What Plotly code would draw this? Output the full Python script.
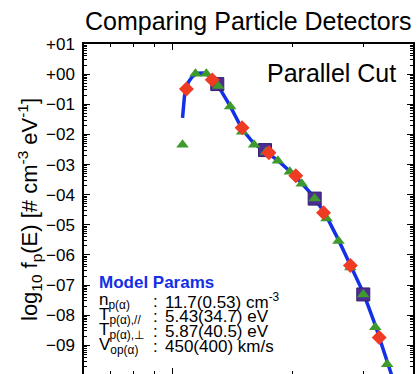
import plotly.graph_objects as go
import numpy as np

# Model curve (energy in eV, log10 f)
curve_E = [1059, 1065, 1071, 1083, 1096, 1121, 1154, 1194, 1229, 1265, 1301, 1394,
           1493, 1600, 1714, 1835, 1966, 2106, 2269, 2430, 2603, 2788, 3003, 3218,
           3446, 3600]
curve_logf = [-1.45, -0.95, -0.72, -0.49, -0.26, -0.08, 0.03, 0.04, -0.03, -0.19,
              -0.39, -1.06, -1.82, -2.31, -2.57, -2.86, -3.22, -3.62, -4.10, -4.72,
              -5.50, -6.33, -7.25, -8.33, -9.50, -10.3]

# Detector 1 (red diamonds)
red_E = [1083, 1257, 1493, 1743, 2035, 2388, 2788, 3292]
red_logf = [-0.49, -0.19, -1.78, -2.61, -3.37, -4.60, -6.35, -8.74]

# Detector 2 (green triangles)
green_E = [1059, 1141, 1215, 1301, 1394, 1493, 1600, 1714, 1835, 1966, 2106, 2269,
           2430, 2603, 2788, 3003, 3218, 3446]
green_logf = [-2.34, 0.01, 0.01, -0.39, -1.07, -1.91, -2.34, -2.58, -2.87, -3.24,
              -3.64, -4.13, -4.79, -5.54, -6.42, -7.31, -8.40, -9.63]

# Detector 3 (purple squares)
sq_E = [1294, 1704, 2269, 3003]
sq_logf = [-0.33, -2.52, -4.13, -7.31]

# Axis ticks
y_major = list(range(-9, 2))
y_labels = [("+%02d" % v) if v >= 0 else ("\u2212%02d" % (-v)) for v in y_major]
y_minor = [n + np.log10(k) for n in range(-10, 1) for k in range(2, 10)]
x_major = [1000]
x_minor = [600, 700, 800, 900, 2000, 3000, 4000]

# Parameter table
param_labels = ["n<sub>p(\u03b1)</sub>", "T<sub>p(\u03b1),//</sub>",
                "T<sub>p(\u03b1),\u22a5</sub>", "V<sub>op(\u03b1)</sub>"]
param_values = ["11.7(0.53) cm<sup>-3</sup>", "5.43(34.7) eV", "5.87(40.5) eV",
                "450(400) km/s"]

FONT = "Liberation Sans, Arial, Helvetica, sans-serif"
BLUE = "#1330e6"

X_RANGE = [np.log10(600), np.log10(4000)]
Y_RANGE = [-9.95, 1]

fig = go.Figure()
fig.add_trace(go.Scatter(x=curve_E, y=curve_logf, mode="lines",
                         line=dict(color=BLUE, width=3.5), hoverinfo="skip"))
fig.add_trace(go.Scatter(x=sq_E, y=sq_logf, mode="markers",
                         marker=dict(symbol="square", size=13, color="#4d2c94",
                                     line=dict(color="#33206e", width=1))))
fig.add_trace(go.Scatter(x=green_E, y=green_logf, mode="markers",
                         marker=dict(symbol="triangle-up", size=11, color="#3f9a2e",
                                     line=dict(width=0))))
fig.add_trace(go.Scatter(x=red_E, y=red_logf, mode="markers",
                         marker=dict(symbol="diamond", size=11.5, color="#ef3a24",
                                     line=dict(width=0))))
# empty trace to anchor the mirrored (top/right) tick axes
fig.add_trace(go.Scatter(x=[], y=[], xaxis="x2", yaxis="y2", hoverinfo="skip"))

tick_common = dict(showgrid=False, zeroline=False, ticks="inside", tickcolor="black",
                   tickwidth=1)
xminor = dict(tickvals=x_minor, ticks="inside", ticklen=3, tickcolor="black", tickwidth=1)
yminor = dict(tickvals=y_minor, ticks="inside", ticklen=3, tickcolor="black", tickwidth=1)

fig.update_layout(
    xaxis=dict(type="log", range=X_RANGE, tickvals=x_major, ticklen=6,
               showticklabels=False, showline=True, linecolor="black", linewidth=1.5,
               mirror=True, minor=xminor, **tick_common),
    xaxis2=dict(type="log", range=X_RANGE, tickvals=x_major, ticklen=6,
                showticklabels=False, showline=False, overlaying="x", side="top",
                anchor="y", minor=xminor, **tick_common),
    yaxis=dict(range=Y_RANGE, tickvals=y_major, ticktext=y_labels, ticklen=6,
               tickfont=dict(family=FONT, size=17, color="black"),
               ticklabelstandoff=4, showline=True, linecolor="black", linewidth=1.5,
               mirror=True, minor=yminor, **tick_common),
    yaxis2=dict(range=Y_RANGE, tickvals=y_major, ticklen=6, showticklabels=False,
                showline=False, overlaying="y", side="right", anchor="x",
                minor=yminor, **tick_common),
)

ann = []
# Title
ann.append(dict(text="Comparing Particle Detectors", xref="paper", yref="paper",
                x=(248.5 - 84) / 329, y=1 + (44 - 21) / 330, xanchor="center",
                yanchor="middle", showarrow=False,
                font=dict(family=FONT, size=25, color="black")))
# Y title
ann.append(dict(text="log<sub>10</sub> f<sub>p</sub>(E) [# cm<sup>-3</sup> eV<sup>-1</sup>]",
                xref="paper", yref="paper", x=(29 - 84) / 329, y=1 - (210 - 44) / 330,
                xanchor="center", yanchor="middle", textangle=-90, showarrow=False,
                font=dict(family=FONT, size=22, color="black")))
# Parallel Cut
ann.append(dict(text="Parallel Cut", xref="paper", yref="paper",
                x=(398 - 84) / 329, y=1 - (73 - 44) / 330, xanchor="right",
                yanchor="middle", showarrow=False,
                font=dict(family=FONT, size=25, color="black")))
# Model Params header
ann.append(dict(text="<b>Model Params</b>", xref="paper", yref="paper",
                x=(97 - 84) / 329, y=1 - (282 - 44) / 330, xanchor="left",
                yanchor="middle", showarrow=False,
                font=dict(family=FONT, size=17, color=BLUE)))
row_y = [301, 316, 331, 346]
for lab, val, py in zip(param_labels, param_values, row_y):
    yp = 1 - (py - 44) / 330
    ann.append(dict(text=lab, xref="paper", yref="paper", x=(97 - 84) / 329, y=yp,
                    xanchor="left", yanchor="middle", showarrow=False,
                    font=dict(family=FONT, size=17, color="black")))
    ann.append(dict(text=":", xref="paper", yref="paper", x=(151 - 84) / 329, y=yp,
                    xanchor="left", yanchor="middle", showarrow=False,
                    font=dict(family=FONT, size=17, color="black")))
    ann.append(dict(text=val, xref="paper", yref="paper", x=(163 - 84) / 329, y=yp,
                    xanchor="left", yanchor="middle", showarrow=False,
                    font=dict(family=FONT, size=17, color="black")))

fig.update_layout(width=417, height=374, margin=dict(l=84, r=4, t=44, b=0),
                  paper_bgcolor="white", plot_bgcolor="white", showlegend=False,
                  annotations=ann, font=dict(family=FONT))
fig.write_html("out.html")
